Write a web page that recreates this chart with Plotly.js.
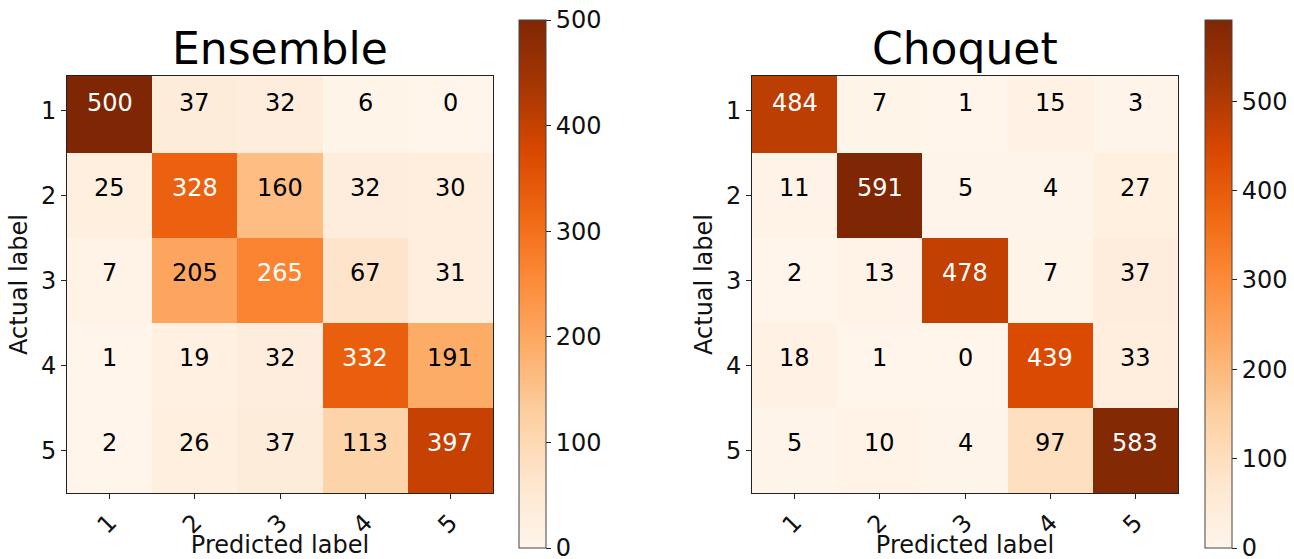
<!DOCTYPE html>
<html>
<head>
<meta charset="utf-8">
<script src="https://cdn.plot.ly/plotly-3.0.1.min.js"></script>
<style>html,body{margin:0;padding:0;background:#fff;}#chart{width:1294px;height:559px;}</style>
</head>
<body>
<div id="chart"></div>
<script>
const labels = [1, 2, 3, 4, 5];
const tickText = ["1", "2", "3", "4", "5"];
const ensemble = [
  [500, 37, 32, 6, 0],
  [25, 328, 160, 32, 30],
  [7, 205, 265, 67, 31],
  [1, 19, 32, 332, 191],
  [2, 26, 37, 113, 397]
];
const choquet = [
  [484, 7, 1, 15, 3],
  [11, 591, 5, 4, 27],
  [2, 13, 478, 7, 37],
  [18, 1, 0, 439, 33],
  [5, 10, 4, 97, 583]
];
const titles = ["Ensemble", "Choquet"];
const cbTicks1 = [0, 100, 200, 300, 400, 500];
const cbTicks2 = [0, 100, 200, 300, 400, 500];

const oranges = [
  [0.0, '#fff5eb'], [0.125, '#fee6ce'], [0.25, '#fdd0a2'], [0.375, '#fdae6b'],
  [0.5, '#fd8d3c'], [0.625, '#f16913'], [0.75, '#d94801'], [0.875, '#a63603'], [1.0, '#7f2704']
];
const W = 1294, H = 559;
const FONT = 'DejaVu Sans, sans-serif';

function maxOf(m) { return Math.max(...m.map(r => Math.max(...r))); }

const mats = [ensemble, choquet];
const cbTickSets = [cbTicks1, cbTicks2];
const cbX = [519 / W, 1205 / W];
const xDomains = [[67 / W, 493 / W], [752 / W, 1178 / W]];
const yDomain = [(H - 493) / H, (H - 76) / H];

const traces = [];
const annotations = [];
mats.forEach((m, i) => {
  const zmax = maxOf(m);
  const xa = i === 0 ? 'x' : 'x2';
  const ya = i === 0 ? 'y' : 'y2';
  traces.push({
    type: 'heatmap', z: m, x: labels, y: labels,
    xaxis: xa, yaxis: ya,
    colorscale: oranges, zmin: 0, zmax: zmax,
    hoverinfo: 'none',
    colorbar: {
      x: cbX[i], xanchor: 'left', xpad: 0, ypad: 0,
      y: (H - 548) / H, yanchor: 'bottom',
      len: (548 - 20.5) / H, lenmode: 'fraction',
      thickness: 27, thicknessmode: 'pixels',
      outlinewidth: 1, outlinecolor: '#444',
      tickvals: cbTickSets[i], ticks: 'outside', ticklen: 5, tickwidth: 1, tickcolor: '#222',
      ticklabeloverflow: 'allow',
      tickfont: {family: FONT, size: 24, color: '#111'}
    }
  });
  const thresh = zmax / 2;
  m.forEach((row, r) => row.forEach((v, c) => {
    annotations.push({
      xref: xa, yref: ya, x: labels[c], y: labels[r], text: String(v), showarrow: false,
      yshift: 8,
      font: {family: FONT, size: 24, color: v > thresh ? '#ffffff' : '#000000'}
    });
  }));
  annotations.push({
    xref: xa + ' domain', yref: 'paper', x: 0.5, y: (H - 48) / H, yanchor: 'middle',
    text: titles[i], showarrow: false,
    font: {family: FONT, size: 44, color: '#000'}
  });
});

function xaxis(dom, anchor) {
  return {
    domain: dom, anchor: anchor, range: [0.5, 5.5],
    tickvals: labels, ticktext: tickText, tickangle: -45,
    ticks: 'outside', ticklen: 5, tickwidth: 1, tickcolor: '#222',
    tickfont: {family: FONT, size: 24, color: '#111'},
    showline: true, linecolor: '#222', linewidth: 1, mirror: true,
    showgrid: false, zeroline: false,
    title: {text: 'Predicted label', font: {family: FONT, size: 24, color: '#111'}, standoff: 5}
  };
}
function yaxis(anchor) {
  return {
    domain: yDomain, anchor: anchor, range: [5.5, 0.59],
    tickvals: labels, ticktext: tickText,
    ticks: 'outside', ticklen: 5, tickwidth: 1, tickcolor: '#222',
    tickfont: {family: FONT, size: 24, color: '#111'},
    showline: true, linecolor: '#222', linewidth: 1, mirror: true,
    showgrid: false, zeroline: false,
    title: {text: 'Actual label', font: {family: FONT, size: 24, color: '#111'}, standoff: 6}
  };
}

const layout = {
  width: W, height: H,
  margin: {l: 0, r: 0, t: 0, b: 0},
  paper_bgcolor: '#fff', plot_bgcolor: '#fff',
  showlegend: false,
  xaxis: xaxis(xDomains[0], 'y'),
  yaxis: yaxis('x'),
  xaxis2: xaxis(xDomains[1], 'y2'),
  yaxis2: yaxis('x2'),
  annotations: annotations,
  font: {family: FONT}
};
Plotly.newPlot('chart', traces, layout, {displayModeBar: false, staticPlot: true});
</script>
</body>
</html>
